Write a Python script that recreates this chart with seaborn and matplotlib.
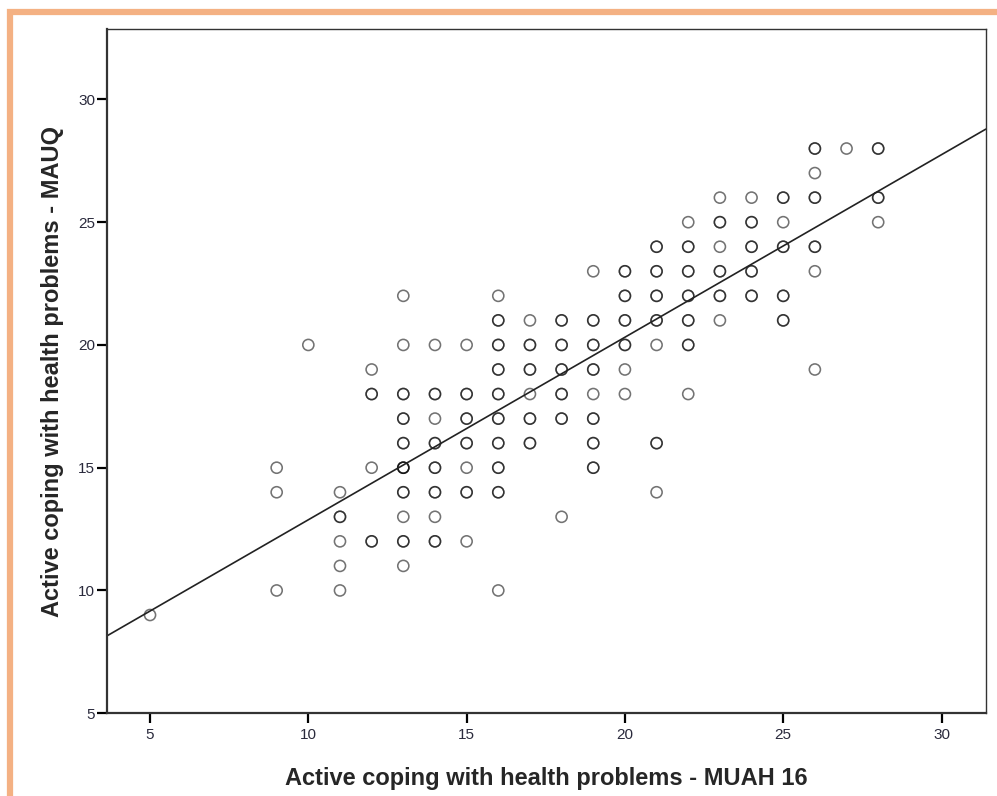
import numpy as np
import pandas as pd
import seaborn as sns
import matplotlib.pyplot as plt
from matplotlib.patches import Rectangle

# MUAH 16 score (x), MAUQ score (y), and how many cases sit on that spot
muah = [5,
        9, 9, 9,
        10,
        11, 11, 11, 11, 11,
        12, 12, 12, 12,
        13, 13, 13, 13, 13, 13, 13, 13, 13, 13,
        14, 14, 14, 14, 14, 14, 14, 14,
        15, 15, 15, 15, 15, 15, 15,
        16, 16, 16, 16, 16, 16, 16, 16, 16, 16,
        17, 17, 17, 17, 17, 17,
        18, 18, 18, 18, 18, 18,
        19, 19, 19, 19, 19, 19, 19, 19,
        20, 20, 20, 20, 20, 20,
        21, 21, 21, 21, 21, 21, 21,
        22, 22, 22, 22, 22, 22, 22,
        23, 23, 23, 23, 23, 23,
        24, 24, 24, 24, 24,
        25, 25, 25, 25, 25,
        26, 26, 26, 26, 26, 26,
        27,
        28, 28, 28]
mauq = [9,
        15, 14, 10,
        20,
        14, 13, 12, 11, 10,
        19, 18, 15, 12,
        22, 20, 18, 17, 16, 15, 14, 13, 12, 11,
        20, 18, 17, 16, 15, 14, 13, 12,
        20, 18, 17, 16, 15, 14, 12,
        22, 21, 20, 19, 18, 17, 16, 15, 14, 10,
        21, 20, 19, 18, 17, 16,
        21, 20, 19, 18, 17, 13,
        23, 21, 20, 19, 18, 17, 16, 15,
        23, 22, 21, 20, 19, 18,
        24, 23, 22, 21, 20, 16, 14,
        25, 24, 23, 22, 21, 20, 18,
        26, 25, 24, 23, 22, 21,
        26, 25, 24, 23, 22,
        26, 25, 24, 22, 21,
        28, 27, 26, 24, 23, 19,
        28,
        28, 26, 25]
cases = [1,
         1, 1, 1,
         1,
         1, 2, 1, 1, 1,
         1, 2, 1, 2,
         1, 1, 2, 2, 2, 3, 2, 1, 2, 1,
         1, 2, 1, 2, 2, 2, 1, 2,
         1, 2, 2, 2, 1, 2, 1,
         1, 2, 2, 2, 2, 2, 2, 2, 2, 1,
         1, 2, 2, 1, 2, 2,
         2, 2, 2, 2, 2, 1,
         1, 2, 2, 2, 1, 2, 2, 2,
         2, 2, 2, 2, 1, 1,
         2, 2, 2, 2, 1, 2, 1,
         1, 2, 2, 2, 2, 2, 1,
         1, 2, 1, 2, 2, 1,
         1, 2, 2, 2, 2,
         2, 1, 2, 2, 2,
         2, 1, 2, 2, 1, 1,
         1,
         2, 2, 1]

df = pd.DataFrame({
    "muah": np.repeat(muah, cases),
    "mauq": np.repeat(mauq, cases),
})

sns.set_style("white")
plt.rcParams["font.family"] = ["Liberation Sans", "DejaVu Sans"]

fig = plt.figure(figsize=(9.97, 7.96), dpi=100)
ax = fig.add_axes([0.1073, 0.104, 0.8815, 0.859])
ax.set_xlim(3.64, 31.4)
ax.set_ylim(5, 32.85)

# overlapping cases draw darker rings
sns.scatterplot(data=df, x="muah", y="mauq", ax=ax, s=64, marker="o",
                facecolor="none", edgecolor="black", linewidth=1.15,
                alpha=0.55, legend=False)
sns.regplot(data=df, x="muah", y="mauq", ax=ax, scatter=False, ci=None,
            truncate=False, line_kws={"color": "#222222", "linewidth": 1.2})

ax.set_xlim(3.64, 31.4)
ax.set_ylim(5, 32.85)
ax.set_xticks([5, 10, 15, 20, 25, 30])
ax.set_yticks([5, 10, 15, 20, 25, 30])
ax.tick_params(axis="both", direction="out", length=7.5, width=1.6,
               labelsize=11, labelcolor="#2a2a3c", color="black",
               bottom=True, left=True)
ax.tick_params(axis="y", pad=1)
ax.tick_params(axis="x", pad=3)
for sp in ax.spines.values():
    sp.set_color("#333333")
    sp.set_linewidth(1.0)
ax.spines["left"].set_linewidth(1.6)
ax.spines["bottom"].set_linewidth(1.6)

ax.set_xlabel("Active coping with health problems - MUAH 16",
              fontsize=17, fontweight="bold", labelpad=18)
ax.set_ylabel("Active coping with health problems - MAUQ",
              fontsize=17, fontweight="bold", labelpad=10)

# orange page frame
fig.patches.append(Rectangle((10 / 997, -0.05), 1.2, 1 - 12 / 796 + 0.05,
                             transform=fig.transFigure, fill=False,
                             edgecolor="#F4B183", linewidth=4.5,
                             clip_on=False))

fig.savefig("out.png", dpi=100)
